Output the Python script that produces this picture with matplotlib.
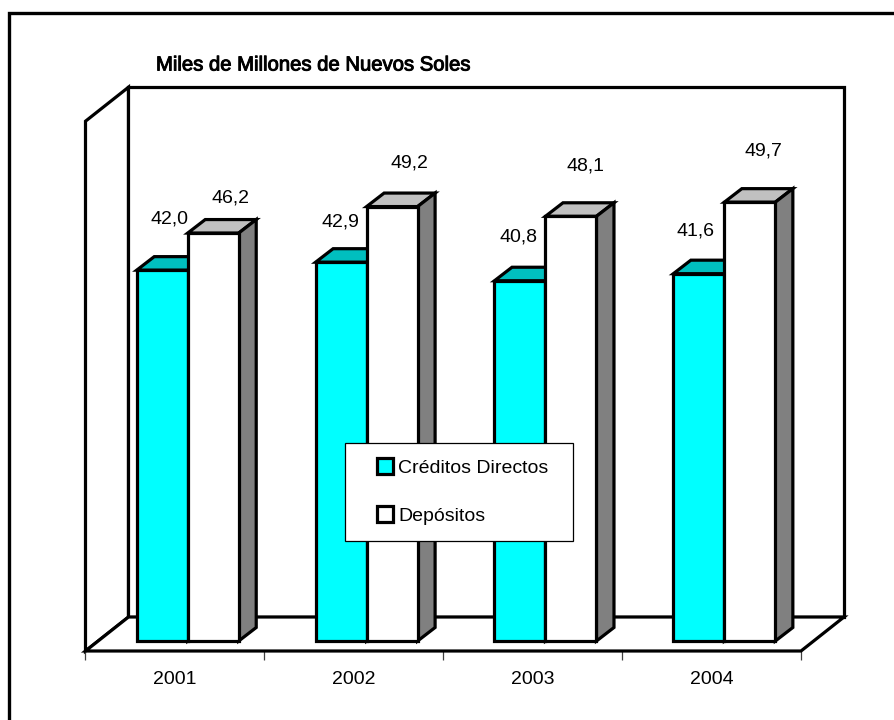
import matplotlib
matplotlib.use("Agg")
import numpy as np
import matplotlib.pyplot as plt
from matplotlib.lines import Line2D
from matplotlib.patches import Patch, Rectangle
from matplotlib.legend_handler import HandlerPatch
from matplotlib import patheffects

years = ['2001', '2002', '2003', '2004']
creditos = [42.0, 42.9, 40.8, 41.6]
depositos = [46.2, 49.2, 48.1, 49.7]
creditos_labels = ['42,0', '42,9', '40,8', '41,6']
depositos_labels = ['46,2', '49,2', '48,1', '49,7']
title = 'Miles de Millones de Nuevos Soles'
axis_max = 60

# hand placed label offsets in the original, in pixels from bar top
creditos_offsets = [(7, 51), (-1, 40), (-1, 44), (-3, 43)]
depositos_offsets = [(17, 35), (17, 44), (15, 50), (14, 51)]

W, H = 895, 720
px_x = 178.9   # pixels per category
px_y = 8.83    # pixels per unit
label_size = 14

plt.rcParams['font.family'] = 'Liberation Sans'
fig = plt.figure(figsize=(W / 100, H / 100), dpi=100)
left, right, floor_px = 85.5, 801.0, 651.0
floor_v = -10 / px_y
top_v = floor_v + axis_max
ax = fig.add_axes([left / W, 1 - floor_px / H, (right - left) / W, axis_max * px_y / H])
ax.set_xlim(-0.5, 3.5)
ax.set_ylim(floor_v, top_v)
for s in ax.spines.values():
    s.set_visible(False)
ax.patch.set_visible(False)
ax.set_yticks([])
ax.set_xticks(np.arange(5) - 0.5)
ax.set_xticklabels([])
ax.tick_params(axis='x', which='major', length=6.5, width=0.9, color='#404040')
ax.set_xticks(np.arange(4), minor=True)
ax.set_xticklabels(years, minor=True, fontsize=label_size)
ax.tick_params(axis='x', which='minor', length=0, pad=14.5)

lw = 2.3
wall_dx = 43 / px_x
wall_dy = 34 / px_y
# back and side walls, floor
ax.fill([-0.5, -0.5 + wall_dx, -0.5 + wall_dx, -0.5],
        [floor_v, floor_v + wall_dy, top_v + wall_dy, top_v],
        fc='white', ec='black', lw=lw, clip_on=False, zorder=1, joinstyle='miter')
ax.fill([-0.5 + wall_dx, 3.5 + wall_dx, 3.5 + wall_dx, -0.5 + wall_dx],
        [floor_v + wall_dy, floor_v + wall_dy, top_v + wall_dy, top_v + wall_dy],
        fc='white', ec='black', lw=lw, clip_on=False, zorder=1, joinstyle='miter')
ax.fill([-0.5, 3.5, 3.5 + wall_dx, -0.5 + wall_dx],
        [floor_v, floor_v, floor_v + wall_dy, floor_v + wall_dy],
        fc='white', ec='black', lw=lw, clip_on=False, zorder=2, joinstyle='miter')

bar_w = 51 / px_x
shift = 12.8 / px_x
dx = 17.5 / px_x
dy = 13.5 / px_y


def draw_bar(xc, v, front, top, side, z):
    x0, x1 = xc - bar_w / 2, xc + bar_w / 2
    ax.fill([x0, x1, x1 + dx, x0 + dx], [v, v, v + dy, v + dy],
            fc=top, ec='black', lw=lw, clip_on=False, zorder=z, joinstyle='miter')
    ax.fill([x1, x1 + dx, x1 + dx, x1], [0, dy, v + dy, v],
            fc=side, ec='black', lw=lw, clip_on=False, zorder=z, joinstyle='miter')
    ax.bar(xc, v, width=bar_w, color=front, edgecolor='black', linewidth=lw,
           clip_on=False, zorder=z + 0.5)


for i in range(len(years)):
    xc = i + shift - bar_w / 2
    xd = i + shift + bar_w / 2
    draw_bar(xc, creditos[i], '#00FFFF', '#00BFBF', '#008080', 3 + i * 2)
    draw_bar(xd, depositos[i], 'white', '#C0C0C0', '#808080', 4 + i * 2)
    ax.annotate(creditos_labels[i], (xc, creditos[i]), xytext=creditos_offsets[i],
                textcoords='offset pixels', ha='center', va='center', fontsize=label_size,
                annotation_clip=False, zorder=20)
    ax.annotate(depositos_labels[i], (xd, depositos[i]), xytext=depositos_offsets[i],
                textcoords='offset pixels', ha='center', va='center', fontsize=label_size,
                annotation_clip=False, zorder=20)


def square_handle(legend, orig_handle, xdescent, ydescent, width, height, fontsize):
    # 16 px square pushed to the right end of the handle box
    size = 16 * 72 / 100
    return Rectangle((width - size, height / 2 - size / 2), size, size)


handles = [Patch(fc='#00FFFF', ec='black', lw=lw, label='Créditos Directos', joinstyle='miter'),
           Patch(fc='white', ec='black', lw=lw, label='Depósitos', joinstyle='miter')]
leg = fig.legend(handles=handles, loc='upper left',
                 bbox_to_anchor=(345 / W, 1 - 541 / H, 228 / W, 98 / H),
                 bbox_transform=fig.transFigure, mode='expand',
                 handler_map={Patch: HandlerPatch(patch_func=square_handle)},
                 fontsize=14, frameon=True, fancybox=False, framealpha=1,
                 edgecolor='black', borderpad=0.85, labelspacing=1.55,
                 handlelength=1.62, handleheight=0.7, handletextpad=0.26,
                 borderaxespad=0)
leg.get_frame().set_linewidth(0.9)
leg.set_zorder(30)

t = fig.text(156 / W, 1 - 65 / H, title, fontsize=14.6, ha='left', va='center')
t.set_path_effects([patheffects.withStroke(linewidth=0.7, foreground='black')])

# outer frame, only top and left fall inside the picture
fig.add_artist(Line2D([9.5 / W, 9.5 / W, 1], [0, 1 - 13 / H, 1 - 13 / H],
                      transform=fig.transFigure, color='black', lw=2.4,
                      solid_joinstyle='miter'))

fig.savefig('out.png', dpi=100)
